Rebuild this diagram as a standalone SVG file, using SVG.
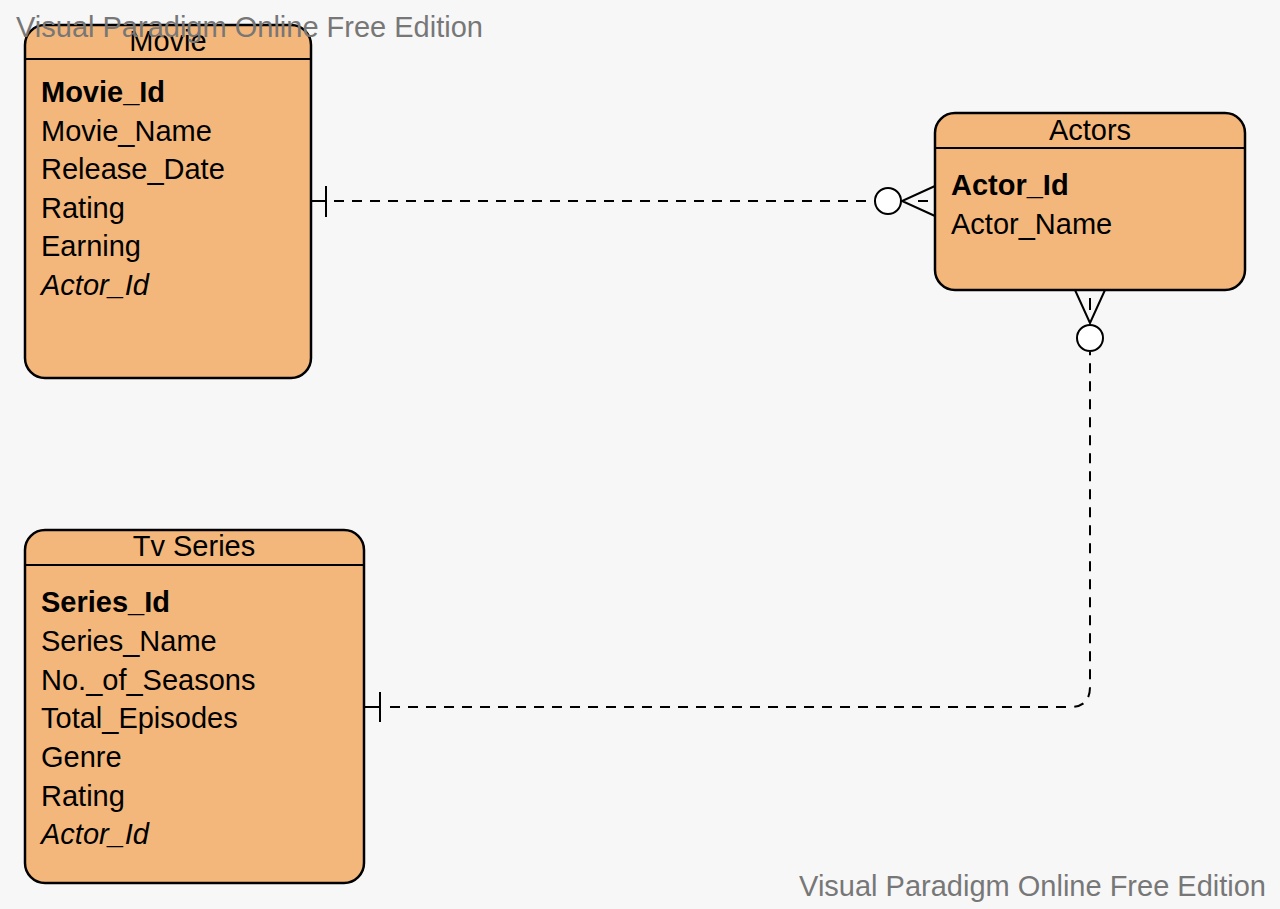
<svg xmlns="http://www.w3.org/2000/svg" width="1280" height="909" viewBox="0 0 1280 909">
<style>
.box{fill:#F4B77B;stroke:#000;stroke-width:2.5}
.sep{stroke:#000;stroke-width:2}
.t{font-family:"Liberation Sans",Arial,sans-serif;font-size:29px;fill:#000}
.h{text-anchor:middle}
.b{font-weight:bold}
.i{font-style:italic}
.c{fill:none;stroke:#000;stroke-width:2}
.d{stroke-dasharray:10 8}
.wm{font-family:"Liberation Sans",Arial,sans-serif;font-size:29px;fill:#777}
</style>
<rect width="1280" height="909" fill="#F7F7F7"/>
<g id="connectors">
<path class="c" d="M311 201H326"/>
<path class="c" d="M326 186V217"/>
<path class="c d" d="M334 201H875"/>
<circle cx="888" cy="201" r="13" fill="#fff" stroke="#000" stroke-width="2"/>
<path class="c" d="M935 186L902 201L935 216M918 201H928"/>
<path class="c" d="M364 707H380"/>
<path class="c" d="M380 692V722"/>
<path class="c d" d="M390 707H1070Q1090 707 1090 687V352"/>
<circle cx="1090" cy="338" r="13" fill="#fff" stroke="#000" stroke-width="2"/>
<path class="c" d="M1075 290L1090 323L1105 290M1090 298V310"/>
</g>
<g id="movie">
<rect class="box" x="25" y="25" width="286" height="353" rx="20"/>
<line class="sep" x1="25" y1="59" x2="311" y2="59"/>
<text class="t h" x="168" y="51">Movie</text>
<text class="t b" x="41" y="102">Movie_Id</text>
<text class="t" x="41" y="141">Movie_Name</text>
<text class="t" x="41" y="179">Release_Date</text>
<text class="t" x="41" y="218">Rating</text>
<text class="t" x="41" y="256">Earning</text>
<text class="t i" x="41" y="295">Actor_Id</text>
</g>
<g id="actors">
<rect class="box" x="935" y="113" width="310" height="177" rx="20"/>
<line class="sep" x1="935" y1="148" x2="1245" y2="148"/>
<text class="t h" x="1090" y="140">Actors</text>
<text class="t b" x="951" y="195">Actor_Id</text>
<text class="t" x="951" y="234">Actor_Name</text>
</g>
<g id="tvseries">
<rect class="box" x="25" y="530" width="339" height="353" rx="20"/>
<line class="sep" x1="25" y1="565" x2="364" y2="565"/>
<text class="t h" x="194" y="556">Tv Series</text>
<text class="t b" x="41" y="612">Series_Id</text>
<text class="t" x="41" y="651">Series_Name</text>
<text class="t" x="41" y="690">No._of_Seasons</text>
<text class="t" x="41" y="728">Total_Episodes</text>
<text class="t" x="41" y="767">Genre</text>
<text class="t" x="41" y="806">Rating</text>
<text class="t i" x="41" y="844">Actor_Id</text>
</g>
<text class="wm" x="16" y="37">Visual Paradigm Online Free Edition</text>
<text class="wm" x="1266" y="896" text-anchor="end">Visual Paradigm Online Free Edition</text>
</svg>
